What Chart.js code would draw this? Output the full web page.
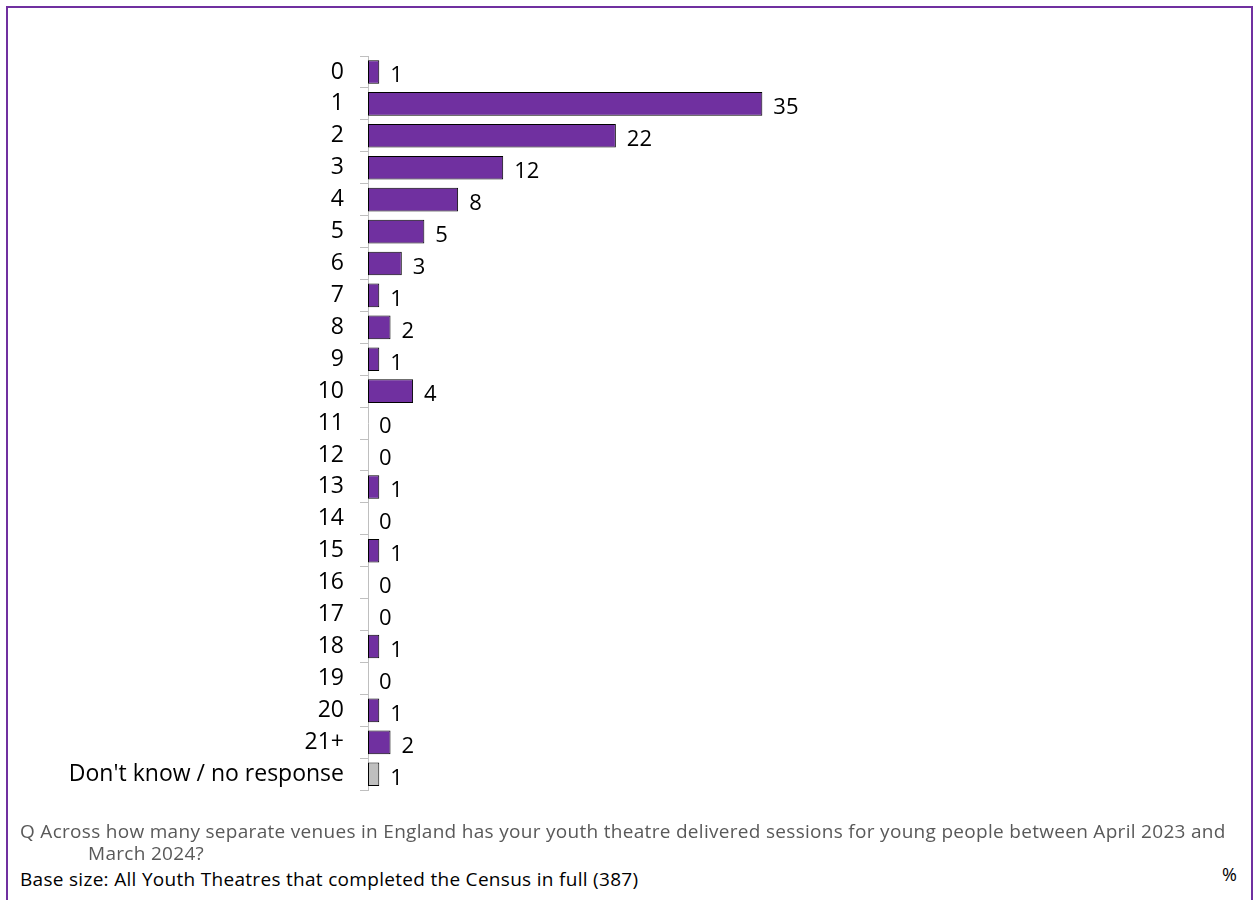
<!DOCTYPE html>
<html lang="en">
<head>
  <meta charset="UTF-8" />
  <title>Number of venues</title>
  <script src="https://cdn.jsdelivr.net/npm/chart.js"></script>
  <style>
    body {
      margin: 0;
      background: #fff;
      font-family: "Open Sans", sans-serif;
    }
    .frame {
      position: absolute;
      left: 6px;
      top: 6px;
      width: 1243px;
      height: 960px;
      border: 2px solid #7030a0;
    }
    .chart-box {
      position: absolute;
      left: 0;
      top: 0;
      width: 1258px;
      height: 820px;
    }
    .note {
      position: absolute;
      left: 20px;
      font-size: 19px;
      line-height: 26px;
      letter-spacing: 0.3px;
      white-space: nowrap;
    }
    .q { top: 818px; color: #595959; }
    .q2 { top: 840px; left: 88px; color: #595959; }
    .base { top: 866px; color: #000; }
    .pct { position: absolute; left: 1222px; top: 861px; font-size: 18px; line-height: 26px; color: #000; }
  </style>
</head>
<body>
  <div class="frame"></div>
  <div class="chart-box"><canvas id="venuesChart"></canvas></div>
  <div class="note q">Q Across how many separate venues in England has your youth theatre delivered sessions for young people between April 2023 and</div>
  <div class="note q2">March 2024?</div>
  <div class="note base">Base size: All Youth Theatres that completed the Census in full (387)</div>
  <div class="pct">%</div>

  <script>
    // Share of youth theatres by number of venues used (%)
    const categories = ['0', '1', '2', '3', '4', '5', '6', '7', '8', '9', '10',
      '11', '12', '13', '14', '15', '16', '17', '18', '19', '20', '21+',
      "Don't know / no response"];
    const percentages = [1, 35, 22, 12, 8, 5, 3, 1, 2, 1, 4, 0, 0, 1, 0, 1, 0, 0, 1, 0, 1, 2, 1];

    const purple = '#7030a0';
    const grey = '#bfbfbf';
    const barColours = categories.map((c, i) => i === categories.length - 1 ? grey : purple);

    // Write each value just past the end of its bar
    const valueLabels = {
      id: 'valueLabels',
      afterDatasetsDraw(chart) {
        const ctx = chart.ctx;
        const meta = chart.getDatasetMeta(0);
        ctx.save();
        ctx.font = '22px "Open Sans"';
        ctx.fillStyle = '#000';
        ctx.textBaseline = 'middle';
        ctx.textAlign = 'left';
        meta.data.forEach((bar, i) => {
          ctx.fillText(String(percentages[i]), bar.x + 11, bar.y + 4);
        });
        ctx.restore();
      }
    };

    new Chart(document.getElementById('venuesChart'), {
      type: 'bar',
      data: {
        labels: categories,
        datasets: [{
          data: percentages,
          backgroundColor: barColours,
          borderColor: '#000',
          borderWidth: 1,
          borderSkipped: false,
          barPercentage: 0.74,
          categoryPercentage: 1
        }]
      },
      options: {
        indexAxis: 'y',
        responsive: true,
        maintainAspectRatio: false,
        animation: false,
        layout: { padding: { top: 56, right: 214, bottom: 18, left: 0 } },
        plugins: {
          legend: { display: false },
          tooltip: { enabled: false }
        },
        scales: {
          x: {
            display: false,
            min: 0,
            max: 60
          },
          y: {
            afterFit(scale) { scale.width = 368; },
            border: { display: true, color: '#bfbfbf', width: 1 },
            grid: {
              display: true,
              drawOnChartArea: false,
              drawTicks: true,
              tickLength: 8,
              color: '#bfbfbf'
            },
            ticks: {
              color: '#000',
              padding: 16,
              font: { family: 'Open Sans', size: 23 }
            }
          }
        }
      },
      plugins: [valueLabels]
    });
  </script>
</body>
</html>
